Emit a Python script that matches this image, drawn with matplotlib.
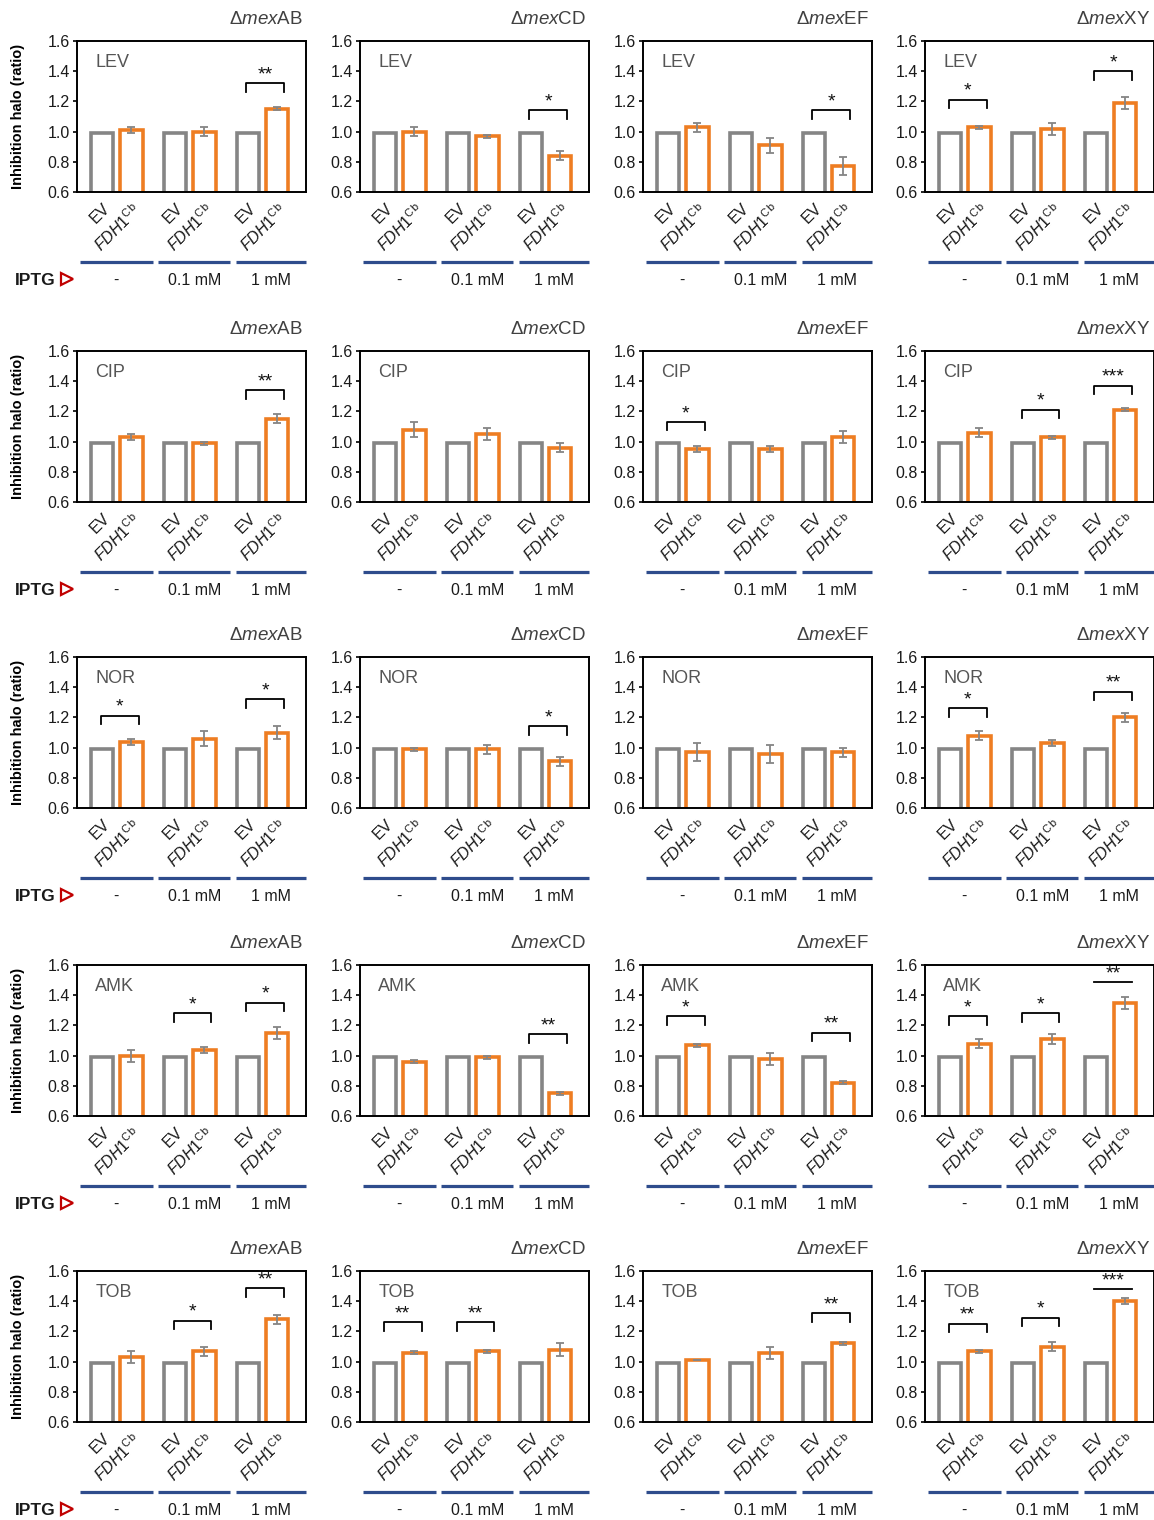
import matplotlib.pyplot as plt
import numpy as np

plt.rcParams['font.family'] = ['Liberation Sans', 'DejaVu Sans']
plt.rcParams['mathtext.fontset'] = 'custom'
plt.rcParams['mathtext.rm'] = 'Liberation Sans'
plt.rcParams['mathtext.it'] = 'Liberation Sans:italic'

# data
strains = ['mexAB', 'mexCD', 'mexEF', 'mexXY']
drugs = ['LEV', 'CIP', 'NOR', 'AMK', 'TOB']
iptg = ['-', '0.1 mM', '1 mM']
ev_ratio = [0.99, 0.99, 0.99]  # empty vector, normalised

# FDH1 ratio per strain (3 IPTG levels) and error
lev_mean = [[1.01, 1.00, 1.15], [1.00, 0.97, 0.84], [1.03, 0.91, 0.77], [1.03, 1.02, 1.19]]
lev_err = [[0.02, 0.03, 0.01], [0.03, 0.01, 0.03], [0.03, 0.05, 0.06], [0.01, 0.04, 0.04]]
cip_mean = [[1.03, 0.99, 1.15], [1.08, 1.05, 0.96], [0.95, 0.95, 1.03], [1.06, 1.03, 1.21]]
cip_err = [[0.02, 0.01, 0.03], [0.05, 0.04, 0.03], [0.02, 0.02, 0.04], [0.03, 0.01, 0.01]]
nor_mean = [[1.04, 1.06, 1.10], [0.99, 0.99, 0.91], [0.97, 0.96, 0.97], [1.08, 1.03, 1.20]]
nor_err = [[0.02, 0.05, 0.04], [0.01, 0.03, 0.03], [0.06, 0.06, 0.03], [0.03, 0.02, 0.03]]
amk_mean = [[1.00, 1.04, 1.15], [0.96, 0.99, 0.75], [1.07, 0.98, 0.82], [1.08, 1.11, 1.35]]
amk_err = [[0.04, 0.02, 0.04], [0.01, 0.01, 0.01], [0.01, 0.04, 0.01], [0.03, 0.03, 0.04]]
tob_mean = [[1.03, 1.07, 1.28], [1.06, 1.07, 1.08], [1.01, 1.06, 1.12], [1.07, 1.10, 1.40]]
tob_err = [[0.04, 0.03, 0.03], [0.01, 0.01, 0.04], [0.00, 0.04, 0.01], [0.01, 0.03, 0.02]]

# significance: (pair index, stars, bracket level)
lev_sig = [[(2, '**', 1.32)], [(2, '*', 1.14)], [(2, '*', 1.14)], [(0, '*', 1.21), (2, '*', 1.40)]]
cip_sig = [[(2, '**', 1.34)], [], [(0, '*', 1.13)], [(1, '*', 1.21), (2, '***', 1.37)]]
nor_sig = [[(0, '*', 1.21), (2, '*', 1.32)], [(2, '*', 1.14)], [], [(0, '*', 1.26), (2, '**', 1.37)]]
amk_sig = [[(1, '*', 1.28), (2, '*', 1.35)], [(2, '**', 1.14)], [(0, '*', 1.26), (2, '**', 1.15)],
           [(0, '*', 1.26), (1, '*', 1.28), (2, '**', 1.485)]]
tob_sig = [[(1, '*', 1.27), (2, '**', 1.485)], [(0, '**', 1.26), (1, '**', 1.26)], [(2, '**', 1.32)],
           [(0, '**', 1.25), (1, '*', 1.29), (2, '***', 1.48)]]

means = {'LEV': lev_mean, 'CIP': cip_mean, 'NOR': nor_mean, 'AMK': amk_mean, 'TOB': tob_mean}
errs = {'LEV': lev_err, 'CIP': cip_err, 'NOR': nor_err, 'AMK': amk_err, 'TOB': tob_err}
sigs = {'LEV': lev_sig, 'CIP': cip_sig, 'NOR': nor_sig, 'AMK': amk_sig, 'TOB': tob_sig}

W, H = 1154, 1520
fig = plt.figure(figsize=(W / 100, H / 100), dpi=100)

col_px = [77, 360, 643, 925]
row_px = [41, 351, 657, 965, 1271]
aw, ah = 229, 151

gray = '#858585'
orange = '#EE7D22'
blue = '#2E4C8C'

xpos = np.array([0, 1, 2.5, 3.5, 5, 6])
ev_x = xpos[0::2]
fdh_x = xpos[1::2]
seg = [(0.012, 0.33), (0.355, 0.67), (0.695, 1.0)]

for r, drug in enumerate(drugs):
    for c, strain in enumerate(strains):
        ax = fig.add_axes([col_px[c] / W, 1 - (row_px[r] + ah) / H, aw / W, ah / H])
        m = means[drug][c]
        e = errs[drug][c]
        ax.bar(ev_x, ev_ratio, width=0.78, facecolor='white', edgecolor=gray, linewidth=2.6, zorder=2)
        ax.bar(fdh_x, m, width=0.78, facecolor='white', edgecolor=orange, linewidth=2.6, zorder=2)
        ax.errorbar(fdh_x, m, yerr=e, fmt='none', ecolor=gray, elinewidth=1.3,
                    capsize=3, capthick=1.3, zorder=3)

        for i, stars, y in sigs[drug][c]:
            x0 = ev_x[i] - 0.05
            x1 = fdh_x[i] + 0.25
            top = max(ev_ratio[i], m[i] + e[i])
            if top > 1.35:
                # bar too tall for a bracket: plain line
                ax.plot([x0, x1], [y, y], color='black', lw=1.3, clip_on=False)
            else:
                ax.plot([x0, x0, x1, x1], [y - 0.055, y, y, y - 0.055], color='black', lw=1.3,
                        clip_on=False)
            ax.text((x0 + x1) / 2, y + 0.0, stars, ha='center', va='bottom', fontsize=14,
                    color='#111111')

        ax.set_xlim(-0.86, 6.99)
        ax.set_ylim(0.6, 1.6)
        ax.set_yticks(np.arange(0.6, 1.61, 0.2))
        ax.set_yticklabels(['%.1f' % v for v in np.arange(0.6, 1.61, 0.2)], fontsize=11.5,
                           color='#1a1a1a')
        ax.set_xticks(xpos)
        ax.set_xticklabels(['EV', r'$\mathit{FDH1}^{\mathrm{Cb}}$'] * 3, rotation=45, ha='right',
                           va='top', rotation_mode='anchor', fontsize=11.5, color='#1a1a1a')
        ax.tick_params(axis='x', length=0, pad=6)
        ax.tick_params(axis='y', length=3, width=1.2, pad=2)
        for s in ax.spines.values():
            s.set_linewidth(1.4)
            s.set_color('black')

        ax.text(0.08, 0.86, drug, transform=ax.transAxes, fontsize=13, color='#555555',
                ha='left', va='center')
        ax.text(0.987, 1.14, u'\u0394$\\mathit{mex}$' + strain[3:], transform=ax.transAxes,
                fontsize=13.5, color='#404040', ha='right', va='center')

        for (a, b), lab in zip(seg, iptg):
            ax.plot([a, b], [-0.464, -0.464], transform=ax.transAxes, color=blue, lw=2.3,
                    clip_on=False, solid_capstyle='butt')
            ax.text((a + b) / 2, -0.585, lab, transform=ax.transAxes, ha='center', va='center',
                    fontsize=11.5, color='#1a1a1a')

        if c == 0:
            ax.set_ylabel('Inhibition halo (ratio)', fontsize=10.5, fontweight='bold')
            ax.yaxis.set_label_coords(-0.225, 0.5)
            ax.text(-0.095, -0.585, 'IPTG', transform=ax.transAxes, ha='right', va='center',
                    fontsize=12.5, fontweight='bold', color='#1a1a1a')
            ax.plot([-0.045], [-0.575], marker='>', ms=8, mfc='white', mec='#C00000', mew=1.6,
                    transform=ax.transAxes, clip_on=False)

fig.savefig('out.png', dpi=100)
